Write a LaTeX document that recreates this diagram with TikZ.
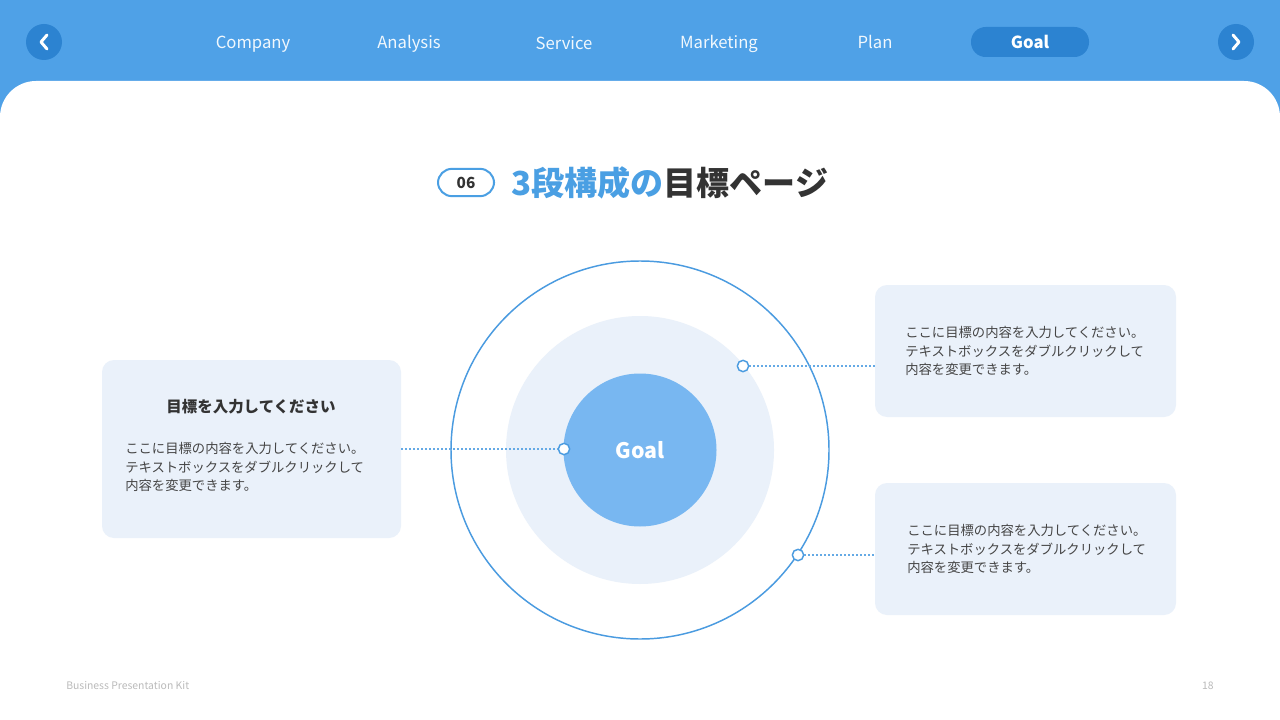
\documentclass[tikz,border=0pt]{standalone}
\usepackage{fontspec}
\setmainfont{Noto Sans CJK JP}
\newfontfamily\jp{Noto Sans CJK JP}
\definecolor{barblue}{HTML}{4FA1E7}
\definecolor{btnblue}{HTML}{2C83D1}
\definecolor{lightfill}{HTML}{EAF1FA}
\definecolor{innerblue}{HTML}{78B7F1}
\definecolor{lineblue}{HTML}{4A9BE0}
\definecolor{titleblue}{HTML}{4A9FE3}
\definecolor{darktext}{HTML}{333333}
\definecolor{bodytext}{HTML}{454545}
\definecolor{footgray}{HTML}{BBBBBB}
\tikzset{
  navbtn/.style={circle, fill=btnblue, minimum size=27pt, inner sep=0},
  chev/.style={white, line width=2.2pt, line cap=round, line join=round},
  navlabel/.style={text=white!92!barblue, font=\fontsize{12.5}{14}\selectfont, inner sep=0, anchor=base},
  infobox/.style={rounded corners=9pt, fill=lightfill, inner sep=0},
  bodytxt/.style={text=bodytext, font=\jp\fontsize{10}{13.9}\selectfont, align=left, inner sep=0, anchor=west},
  markdot/.style={circle, draw=lineblue, fill=white, line width=1.1pt, minimum size=8.5pt, inner sep=0},
  dotline/.style={draw=lineblue!85!white, line width=1.2pt, dash pattern=on 1.2pt off 1.8pt},
}
\begin{document}
\begin{tikzpicture}[x=0.75pt,y=-0.75pt]
\useasboundingbox (0,0) rectangle (1280,720);
\begin{scope}
\clip (0,0) rectangle (1280,720);
\fill[barblue] (0,0) rectangle (1280,720);
\fill[white, rounded corners=27pt] (0,81) rectangle (1280,800);
\end{scope}
% nav
\node[navbtn] (prev) at (44,42) {};
\draw[chev] ([shift={(3,-7)}]prev.center) -- ([shift={(-3,0)}]prev.center) -- ([shift={(3,7)}]prev.center);
\node[navbtn] (next) at (1236,42) {};
\draw[chev] ([shift={(-3,-7)}]next.center) -- ([shift={(3,0)}]next.center) -- ([shift={(-3,7)}]next.center);
\node[navlabel] (n1) at (253,49) {Company};
\node[navlabel] (n2) at (409,49) {Analysis};
\node[navlabel] (n3) at (564,50) {Service};
\node[navlabel] (n4) at (719,49) {Marketing};
\node[navlabel] (n5) at (875,49) {Plan};
\node[fill=btnblue, rounded corners=11pt, minimum width=88.5pt, minimum height=22.5pt, inner sep=0] (n6) at (1030,42) {};
\node[anchor=base, inner sep=0, text=white, font=\bfseries\fontsize{12.5}{14}\selectfont] (n6t) at (1030,48.5) {Goal};
% title
\node[draw=titleblue, line width=1.5pt, rounded corners=10.5pt, minimum width=42pt, minimum height=20.5pt, inner sep=0,
      text=darktext, font=\bfseries\fontsize{11.5}{13}\selectfont] (num) at (466,182.5) {06};
\node[anchor=west, inner sep=0, font=\jp\bfseries\fontsize{24.8}{28}\selectfont] (title) at (511,183)
  {\textcolor{titleblue}{3段構成の}\textcolor{darktext}{目標ページ}};
% circles
\node[circle, draw=lineblue, line width=1.1pt, minimum size=283.5pt, inner sep=0] (outer) at (640,450) {};
\node[circle, fill=lightfill, minimum size=201pt, inner sep=0] (ring) at (640,450) {};
\node[circle, fill=innerblue, minimum size=114.75pt, inner sep=0, text=white,
      font=\bfseries\fontsize{16}{18}\selectfont] (goal) at (640,450) {Goal};
% boxes
\node[infobox, minimum width=224.25pt, minimum height=133.5pt] (boxL) at (251.5,449) {};
\node[infobox, minimum width=225.75pt, minimum height=99pt] (boxR1) at (1025.5,351) {};
\node[infobox, minimum width=225.75pt, minimum height=99pt] (boxR2) at (1025.5,549) {};
\node[inner sep=0, text=darktext, font=\jp\bfseries\fontsize{11.6}{14}\selectfont] (tL) at (251,407) {目標を入力してください};
\node[bodytxt] (bL) at (125,467) {ここに目標の内容を入力してください。\\テキストボックスをダブルクリックして\\内容を変更できます。};
\node[bodytxt] (bR1) at (905,351) {ここに目標の内容を入力してください。\\テキストボックスをダブルクリックして\\内容を変更できます。};
\node[bodytxt] (bR2) at (907,549) {ここに目標の内容を入力してください。\\テキストボックスをダブルクリックして\\内容を変更できます。};
% markers & connectors
\node[markdot] (dL) at (564,449) {};
\node[markdot] (dR1) at (743,366) {};
\node[markdot] (dR2) at (798,555) {};
\draw[dotline] (boxL.east) -- (dL.west);
\draw[dotline] (dR1.east) -- (dR1.east -| boxR1.west);
\draw[dotline] (dR2.east) -- (dR2.east -| boxR2.west);
% footer
\node[anchor=west, inner sep=0, text=footgray, font=\fontsize{7.8}{9}\selectfont] (foot) at (66,686) {Business Presentation Kit};
\node[anchor=east, inner sep=0, text=footgray, font=\fontsize{7.8}{9}\selectfont] (page) at (1214,686) {18};
\end{tikzpicture}
\end{document}
